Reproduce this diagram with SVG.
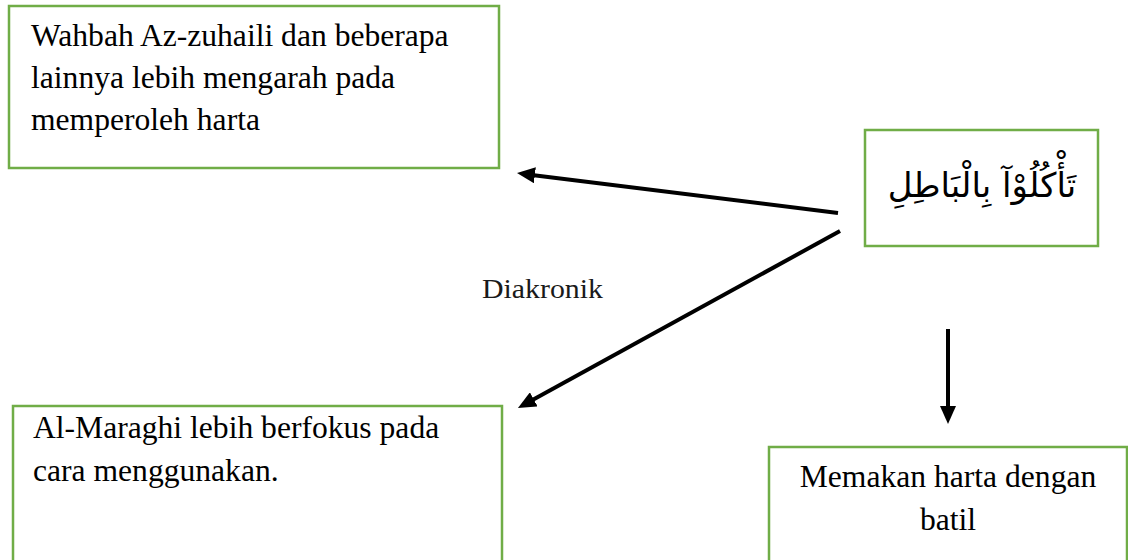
<svg xmlns="http://www.w3.org/2000/svg" width="1128" height="560" viewBox="0 0 1128 560">
<defs>
<style>
.box{fill:#ffffff;stroke:#70AD47;stroke-width:2.5}
.t{font-family:"Liberation Serif","Times New Roman",serif;font-size:31.6px;fill:#000}
.lbl{font-family:"Liberation Serif","Times New Roman",serif;font-size:27px;fill:#1a1a1a}
.ar{font-family:"DejaVu Sans",sans-serif;font-size:34px;fill:#000}
.conn{stroke:#000;stroke-width:4;fill:none}
</style>
<marker id="ah" viewBox="0 0 18 16" markerWidth="18" markerHeight="16" markerUnits="userSpaceOnUse" refX="3" refY="8" orient="auto">
<path d="M0,0 L18,8 L0,16 z" fill="#000"/>
</marker>
</defs>
<rect width="1128" height="560" fill="#ffffff"/>
<g id="connectors">
<line class="conn" x1="838" y1="213" x2="531.9" y2="174.9" marker-end="url(#ah)"/>
<line class="conn" x1="840" y1="231" x2="531.1" y2="400.8" marker-end="url(#ah)"/>
<line class="conn" x1="948" y1="329" x2="948" y2="409" marker-end="url(#ah)"/>
<text class="lbl" x="482" y="298" textLength="121" lengthAdjust="spacingAndGlyphs">Diakronik</text>
</g>
<g id="node-wahbah">
<rect class="box" x="9" y="6" width="490" height="162"/>
<text class="t" x="31" y="46">Wahbah Az-zuhaili dan beberapa</text>
<text class="t" x="31" y="88">lainnya lebih mengarah pada</text>
<text class="t" x="31" y="130">memperoleh harta</text>
</g>
<g id="node-arabic">
<rect class="box" x="865" y="130" width="233" height="116"/>
<text class="ar" x="982" y="197" text-anchor="middle" direction="rtl">تَأْكُلُوْآ بِالْبَاطِلِ</text>
</g>
<g id="node-maraghi">
<rect class="box" x="13" y="406" width="489" height="170"/>
<text class="t" x="33" y="438">Al-Maraghi lebih berfokus pada</text>
<text class="t" x="33" y="481">cara menggunakan.</text>
</g>
<g id="node-batil">
<rect class="box" x="769" y="447" width="358" height="130"/>
<text class="t" x="948" y="487" text-anchor="middle">Memakan harta dengan</text>
<text class="t" x="948" y="530" text-anchor="middle">batil</text>
</g>
</svg>
